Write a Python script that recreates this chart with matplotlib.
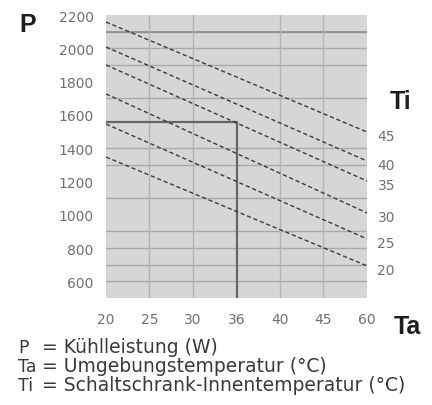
import matplotlib
matplotlib.use("Agg")
import matplotlib.pyplot as plt

# Data
ta_ticks = [20, 25, 30, 35, 40, 45, 50]
ta_labels = ["20", "25", "30", "36", "40", "45", "60"]
p_ticks = [600, 800, 1000, 1200, 1400, 1600, 1800, 2000, 2200]
ti_values = [45, 40, 35, 30, 25, 20]
p_at_20 = [2158, 2008, 1900, 1726, 1545, 1347]
p_at_50 = [1497, 1323, 1203, 1011, 855, 693]
grid_p = [2100, 2000, 1900, 1700, 1400, 1300, 1100, 900, 800, 700, 600]
grid_ta = [25, 30, 40, 45]
marker_ta = 35
marker_p = 1560
legend_lines = [("P", "= Kühlleistung (W)"),
                ("Ta", "= Umgebungstemperatur (°C)"),
                ("Ti", "= Schaltschrank-Innentemperatur (°C)")]

fig = plt.figure(figsize=(4.32, 4.06), dpi=100)
ax = fig.add_axes([106/432, 1-299/406, (367-106)/432, (299-16)/406])
ax.set_facecolor("#d6d6d6")
ax.set_xlim(20, 50)
ax.set_ylim(500, 2200)
for s in ax.spines.values():
    s.set_visible(False)

for gp in grid_p:
    ax.axhline(gp, color="#a9a9a9", lw=1.0, zorder=1)
ax.axhline(2100, color="#8a8a8a", lw=1.2, zorder=1)
for gt in grid_ta:
    ax.axvline(gt, color="#b4b4b4", lw=1.0, zorder=1)

for ti, a, b in zip(ti_values, p_at_20, p_at_50):
    ax.plot([20, 50], [a, b], color="#3a3a3a", lw=1.0, ls=(0, (3, 2)), zorder=3)
    ax.text(51.2, b - 25, str(ti), fontsize=10, color="#707070", va="center", ha="left")

ax.plot([20, marker_ta, marker_ta], [marker_p, marker_p, 500], color="#666666", lw=1.6, zorder=2)

ax.set_xticks(ta_ticks)
ax.set_xticklabels(ta_labels)
ax.set_yticks(p_ticks)
ax.set_yticklabels([str(p) for p in p_ticks])
ax.tick_params(length=0, labelsize=10, labelcolor="#707070", pad=9)
ax.tick_params(axis="x", pad=10)

bold = dict(family=["Liberation Sans", "DejaVu Sans"], fontweight="bold", color="#1e1e1e",
            fontsize=18, ha="center", va="center")
fig.text(28/432, 1-25/406, "P", **bold)
fig.text(401/432, 1-102/406, "Ti", **bold)
fig.text(407/432, 1-327/406, "Ta", **bold)

for i, (sym, desc) in enumerate(legend_lines):
    y = 1 - (353 + 19*i)/406
    fig.text(18/432, y, sym, fontsize=12.5, color="#3a3a3a", ha="left", va="baseline")
    fig.text(42/432, y, desc, fontsize=13.5, color="#3a3a3a", ha="left", va="baseline")

fig.savefig("out.png", dpi=100, facecolor="white")
